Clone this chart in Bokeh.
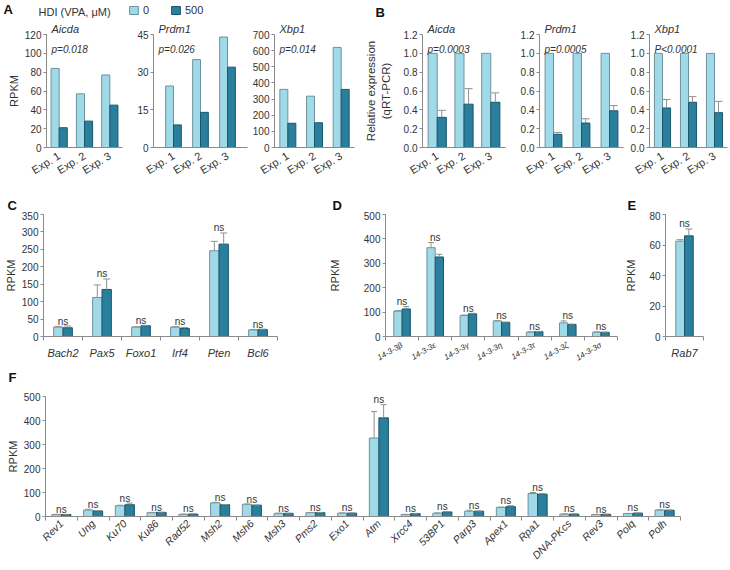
import numpy as np
from bokeh.plotting import figure
from bokeh.models import (ColumnDataSource, Range1d, FixedTicker, Whisker, TeeHead, Label,
                          Legend, LegendItem, NumeralTickFormatter, Title)
from bokeh.layouts import column, row
from bokeh.embed import file_html
from bokeh.resources import INLINE
from bokeh.core.properties import value

# ---------------- data ----------------
EXPS = ["Exp. 1", "Exp. 2", "Exp. 3"]
DOSES = ["0", "500"]

# Panel A: RNA-seq RPKM
A_AICDA_0 = [84, 57, 77]
A_AICDA_500 = [21, 28, 45]
A_PRDM1_0 = [24.5, 35, 44]
A_PRDM1_500 = [9, 14, 32]
A_XBP1_0 = [360, 318, 620]
A_XBP1_500 = [150, 153, 360]

# Panel B: qRT-PCR relative expression
B_AICDA_0 = [1.0, 1.0, 1.0]
B_AICDA_500 = [0.32, 0.46, 0.48]
B_AICDA_500_ERR = [0.075, 0.165, 0.10]
B_PRDM1_0 = [1.0, 1.0, 1.0]
B_PRDM1_500 = [0.14, 0.26, 0.39]
B_PRDM1_500_ERR = [0.02, 0.045, 0.055]
B_XBP1_0 = [1.0, 1.0, 1.0]
B_XBP1_500 = [0.42, 0.48, 0.37]
B_XBP1_500_ERR = [0.09, 0.06, 0.12]

# Panel C
C_GENES = ["Bach2", "Pax5", "Foxo1", "Irf4", "Pten", "Bcl6"]
C_0 = [27, 112, 27, 27, 246, 19]
C_0_ERR = [2, 36, 1, 1, 27, 1]
C_500 = [25, 135, 31, 23, 265, 20]
C_500_ERR = [5, 30, 1, 3, 32, 1]

# Panel D
D_GENES = ["14-3-3β", "14-3-3ε", "14-3-3γ", "14-3-3η", "14-3-3τ", "14-3-3ζ", "14-3-3σ"]
D_0 = [104, 364, 86, 64, 18, 56, 18]
D_0_ERR = [2, 21, 2, 1, 1, 8, 1]
D_500 = [113, 326, 93, 58, 20, 49, 17]
D_500_ERR = [10, 11, 2, 1, 1, 2, 1]

# Panel E
E_GENES = ["Rab7"]
E_0 = [62.5]
E_0_ERR = [1]
E_500 = [66]
E_500_ERR = [4.5]

# Panel F
F_GENES = ["Rev1", "Ung", "Ku70", "Ku86", "Rad52", "Msh2", "Msh6", "Msh3", "Pms2", "Exo1",
           "Atm", "Xrcc4", "53BP1", "Parp3", "Apex1", "Rpa1", "DNA-PKcs", "Rev3", "Polq", "Polh"]
F_0 = [8, 27, 45, 16, 9, 57, 51, 13, 16, 14, 327, 8, 14, 22, 38, 96, 10, 8, 12, 27]
F_0_ERR = [1, 3, 2, 1, 1, 2, 1, 1, 1, 1, 110, 1, 1, 4, 1, 4, 1, 1, 1, 1]
F_500 = [8, 23, 49, 17, 10, 49, 47, 13, 16, 14, 411, 12, 19, 22, 41, 93, 10, 9, 14, 26]
F_500_ERR = [1, 1, 7, 1, 1, 1, 1, 1, 1, 1, 55, 1, 1, 1, 4, 3, 1, 1, 1, 1]

# ---------------- style ----------------
FONT = "Liberation Sans"
LIGHT, LIGHT_LINE = "#a0d9e8", "#6e939d"
DARK, DARK_LINE = "#2a7f9c", "#1b566a"
AXIS = "#8a8a8a"
TEXT = "#333333"
ERRC = "#909090"
W = 728


def bar_panel(w, h, borders, labels, pad, bw, v0, v1, y_end, y_step,
              e0=None, e1=None, ns=False, label_angle=0.0, label_size="11px",
              italic_labels=False, cat_ticks=False, fmt=None, ylabel=None,
              ylabel_standoff=2, ylabel_size="11px", cap=7, gene=None, pval=None):
    n = len(labels)
    left, right, top, bottom = borders
    p = figure(width=w, height=h, x_range=Range1d(-0.5 - pad, n - 0.5 + pad),
               y_range=Range1d(0, y_end), output_backend="svg", toolbar_location=None,
               title=None, min_border_left=left, min_border_right=right,
               min_border_top=top, min_border_bottom=bottom)
    p.outline_line_color = None
    p.xgrid.visible = False
    p.ygrid.visible = False

    if gene:
        p.add_layout(Title(text=gene, align="left", offset=5, standoff=0,
                           text_font=FONT, text_font_style="italic",
                           text_font_size="11px", text_color=TEXT), "above")
    if pval:
        p.add_layout(Label(x=-0.5 - pad, y=y_end, x_offset=5, y_offset=-15, text=pval,
                           text_font=FONT, text_font_style="italic", text_font_size="10px",
                           text_color=TEXT, text_baseline="alphabetic"))

    idx = np.arange(n)
    x0 = idx - bw / 2
    x1 = idx + bw / 2
    src = ColumnDataSource(dict(x0=x0, x1=x1, v0=v0, v1=v1))
    p.vbar(x="x0", top="v0", width=bw, source=src, fill_color=LIGHT,
           line_color=LIGHT_LINE, line_width=1)
    p.vbar(x="x1", top="v1", width=bw, source=src, fill_color=DARK,
           line_color=DARK_LINE, line_width=1)

    for xs, vs, es in ((x0, v0, e0), (x1, v1, e1)):
        if es is None:
            continue
        keep = [i for i in range(n) if es[i] > 0]
        wsrc = ColumnDataSource(dict(base=[xs[i] for i in keep],
                                     lower=[vs[i] for i in keep],
                                     upper=[vs[i] + es[i] for i in keep]))
        p.add_layout(Whisker(source=wsrc, base="base", lower="lower", upper="upper",
                             dimension="height", line_color=ERRC, line_width=1,
                             upper_head=TeeHead(size=cap, line_color=ERRC, line_width=1),
                             lower_head=None, level="annotation"))

    if ns:
        t0 = [v0[i] + (e0[i] if e0 else 0) for i in range(n)]
        t1 = [v1[i] + (e1[i] if e1 else 0) for i in range(n)]
        tops = [max(a, b) for a, b in zip(t0, t1)]
        p.text(x=list(idx), y=tops, text=["ns"] * n, text_align="center",
               text_baseline="alphabetic", y_offset=-5, text_font_size="10px",
               text_font=value(FONT), text_color=TEXT)

    xa = p.xaxis[0]
    xa.axis_line_color = AXIS
    xa.major_label_text_font = FONT
    xa.major_label_text_color = TEXT
    xa.major_label_text_font_size = label_size
    if italic_labels:
        xa.major_label_text_font_style = "italic"
    xa.major_tick_line_color = None
    xa.major_tick_out = 0
    xa.major_tick_in = 0
    if cat_ticks:
        xa.ticker = FixedTicker(ticks=list(idx), minor_ticks=[i - 0.5 for i in range(n + 1)])
        xa.minor_tick_line_color = AXIS
        xa.minor_tick_out = 4
        xa.minor_tick_in = 0
        xa.major_label_standoff = 6
    else:
        xa.ticker = FixedTicker(ticks=list(idx))
        xa.minor_tick_line_color = None
        xa.major_label_standoff = 7
    xa.major_label_overrides = {int(i): labels[i] for i in range(n)}
    if label_angle:
        xa.major_label_orientation = label_angle

    ya = p.yaxis[0]
    ya.ticker = FixedTicker(ticks=[round(t, 4) for t in np.arange(0, y_end + y_step / 2, y_step)])
    ya.axis_line_color = AXIS
    ya.major_tick_line_color = AXIS
    ya.major_tick_out = 3
    ya.major_tick_in = 0
    ya.minor_tick_line_color = None
    ya.major_label_text_font = FONT
    ya.major_label_text_color = TEXT
    ya.major_label_text_font_size = "10px"
    ya.major_label_standoff = 2
    if fmt:
        ya.formatter = NumeralTickFormatter(format=fmt)
    if ylabel:
        ya.axis_label = ylabel
        ya.axis_label_text_font = FONT
        ya.axis_label_text_font_style = "normal"
        ya.axis_label_text_font_size = ylabel_size
        ya.axis_label_text_color = TEXT
        ya.axis_label_standoff = ylabel_standoff
    return p


def header(h):
    hp = figure(width=W, height=h, x_range=Range1d(0, W), y_range=Range1d(0, h),
                x_axis_type=None, y_axis_type=None, output_backend="svg",
                toolbar_location=None, title=None, min_border=0, min_border_left=0,
                min_border_right=0, min_border_top=0, min_border_bottom=0)
    hp.outline_line_color = None
    hp.xgrid.visible = False
    hp.ygrid.visible = False
    return hp


def letter(hp, text, x, y, size="13px", style="bold"):
    hp.add_layout(Label(x=x, y=y, text=text, text_font=FONT, text_font_style=style,
                        text_font_size=size, text_baseline="alphabetic",
                        text_color="#111111" if style == "bold" else TEXT))


ANG_A = np.deg2rad(32)

# ---------------- header 1: letters A, B and legend ----------------
H1 = 20
h1 = header(H1)
letter(h1, "A", 3, 11.5)
letter(h1, "B", 375, 8.5)
letter(h1, "HDI (VPA, μM)", 38, 8.5, size="11px", style="normal")
lg0 = h1.vbar(x=[np.nan], top=[np.nan], width=1, fill_color=LIGHT, line_color=LIGHT_LINE)
lg1 = h1.vbar(x=[np.nan], top=[np.nan], width=1, fill_color=DARK, line_color=DARK_LINE)
legend = Legend(items=[LegendItem(label=DOSES[0], renderers=[lg0]),
                       LegendItem(label=DOSES[1], renderers=[lg1])],
                orientation="horizontal", location=(128, 4), glyph_width=11, glyph_height=10,
                label_height=10, label_standoff=4, spacing=7, padding=0, margin=0,
                border_line_color=None, background_fill_alpha=0,
                label_text_font=FONT, label_text_font_size="11px", label_text_color=TEXT)
h1.add_layout(legend)

# ---------------- row 1: panels A and B ----------------
R1H = 185 - H1
R1B = (32 - H1, 38)
a1 = bar_panel(130, R1H, (46, 8) + R1B, EXPS, 0.0, 0.32, A_AICDA_0, A_AICDA_500,
               120, 20, label_angle=ANG_A, ylabel="RPKM", gene="Aicda", pval="p=0.018")
a2 = bar_panel(119, R1H, (23, 2) + R1B, EXPS, 0.24, 0.29, A_PRDM1_0, A_PRDM1_500,
               45, 15, label_angle=ANG_A, gene="Prdm1", pval="p=0.026")
a3 = bar_panel(113, R1H, (24, 8) + R1B, EXPS, 0.0, 0.30, A_XBP1_0, A_XBP1_500,
               700, 100, label_angle=ANG_A, gene="Xbp1", pval="p=0.014")
b1 = bar_panel(155, R1H, (58, 12) + R1B, EXPS, 0.05, 0.34, B_AICDA_0, B_AICDA_500,
               1.2, 0.2, e1=B_AICDA_500_ERR, label_angle=ANG_A, fmt="0.0",
               ylabel="Relative expression\n(qRT-PCR)", ylabel_standoff=9,
               ylabel_size="11.5px", cap=8, gene="Aicda", pval="p=0.0003")
b2 = bar_panel(110, R1H, (21, 4) + R1B, EXPS, 0.0, 0.30, B_PRDM1_0, B_PRDM1_500,
               1.2, 0.2, e1=B_PRDM1_500_ERR, label_angle=ANG_A, fmt="0.0", cap=8,
               gene="Prdm1", pval="p=0.0005")
b3 = bar_panel(101, R1H, (21, 1) + R1B, EXPS, 0.0, 0.31, B_XBP1_0, B_XBP1_500,
               1.2, 0.2, e1=B_XBP1_500_ERR, label_angle=ANG_A, fmt="0.0", cap=8,
               gene="Xbp1", pval="P<0.0001")

# ---------------- header 2: letters C, D, E ----------------
H2 = 26
h2 = header(H2)
letter(h2, "C", 7, 6.5)
letter(h2, "D", 332, 6.5)
letter(h2, "E", 627, 6.5)

# ---------------- row 2: panels C, D, E ----------------
R2H = 370 - 185 - H2
c = bar_panel(325, R2H, (43, 48, 3, 34), C_GENES, 0.0, 0.24, C_0, C_500, 350, 50,
              e0=C_0_ERR, e1=C_500_ERR, ns=True, italic_labels=True, cat_ticks=True,
              ylabel="RPKM", cap=7)
d = bar_panel(297, R2H, (60, 5, 3, 34), D_GENES, 0.0, 0.25, D_0, D_500, 500, 100,
              e0=D_0_ERR, e1=D_500_ERR, ns=True, italic_labels=True, cat_ticks=True,
              label_angle=np.deg2rad(30), label_size="8px", ylabel="RPKM",
              ylabel_standoff=20, cap=6)
d.xaxis[0].major_label_standoff = 4
e = bar_panel(106, R2H, (41, 25, 3, 34), E_GENES, 0.0, 0.23, E_0, E_500, 80, 20,
              e0=E_0_ERR, e1=E_500_ERR, ns=True, italic_labels=True, cat_ticks=True,
              ylabel="RPKM", ylabel_standoff=9, cap=7)

# ---------------- header 3: letter F ----------------
H3 = 14
h3 = header(H3)
letter(h3, "F", 8, 7.5)

# ---------------- row 3: panel F ----------------
f = bar_panel(W, 568 - 370 - H3, (45, 48, 12, 50), F_GENES, 0.0, 0.30, F_0, F_500, 500, 100,
              e0=F_0_ERR, e1=F_500_ERR, ns=True, italic_labels=True, cat_ticks=True,
              label_angle=np.deg2rad(45), label_size="10.5px", ylabel="RPKM", cap=6)
f.xaxis[0].major_label_standoff = 1

layout = column(row(h1), row(a1, a2, a3, b1, b2, b3), row(h2), row(c, d, e), row(h3), row(f))

with open("out.html", "w") as fh:
    fh.write(file_html(layout, INLINE))
